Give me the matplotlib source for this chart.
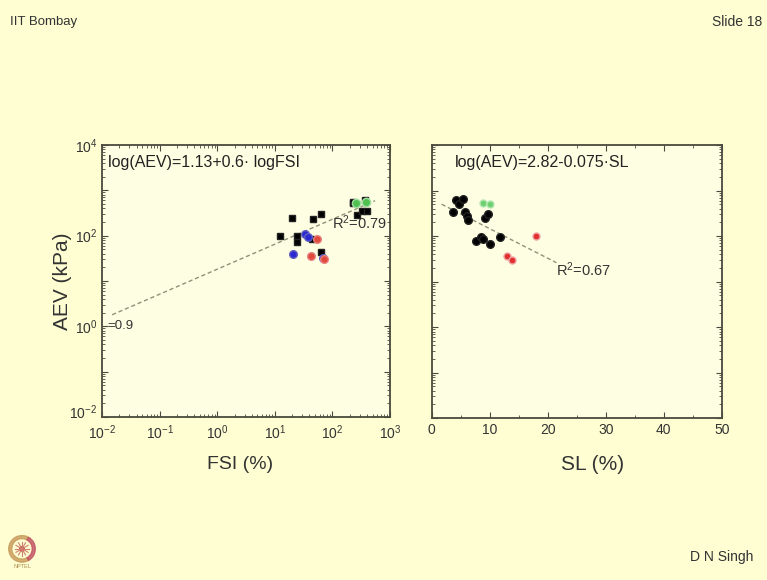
import numpy as np
import matplotlib
matplotlib.use("Agg")
import matplotlib.pyplot as plt
from matplotlib.ticker import LogLocator, NullFormatter, FixedLocator, FixedFormatter, MultipleLocator
from matplotlib.patches import Circle, Wedge
from matplotlib.transforms import ScaledTranslation

plt.rcParams['font.family'] = ['Liberation Sans', 'DejaVu Sans']

# ---- data ----
# left panel: FSI (%) vs AEV (kPa)
fsi_black = [12.4, 20, 24, 24, 46, 63, 63, 44, 228, 370, 270, 330, 400, 230]
aev_black = [97, 250, 100, 72, 230, 295, 44, 83, 530, 620, 285, 355, 355, 560]
fsi_blue = [33, 38, 20.5, 69]
aev_blue = [107, 95, 39, 32]
fsi_red = [54, 43, 72]
aev_red = [83, 35, 30]
fsi_green = [257, 390]
aev_green = [520, 550]
fsi_fit_x = [0.015, 550]
fsi_fit_y = [1.8, 590]

# right panel: SL (%) vs AEV (kPa)
sl_black = [3.6, 4.1, 4.7, 5.3, 5.7, 6.0, 6.3, 9.1, 9.7, 7.6, 8.4, 8.9, 10.1, 11.7]
aev2_black = [340, 620, 515, 650, 340, 270, 230, 250, 300, 79, 95, 87, 68, 95]
sl_red = [17.9, 13.0, 13.9]
aev2_red = [102, 37, 30]
sl_green = [8.85, 10.0]
aev2_green = [540, 500]
sl_fit_x = [1.7, 21.5]
sl_fit_y = [500, 26]

bg = '#fefed2'
inner = '#fefee2'
edge = '#4a4a3e'
fitc = '#8c9478'

fig = plt.figure(figsize=(7.67, 5.80), dpi=100)
fig.patch.set_facecolor(bg)

ax1 = fig.add_axes([0.133, 0.281, 0.3755, 0.469])
ax2 = fig.add_axes([0.563, 0.279, 0.378, 0.471])

for ax in (ax1, ax2):
    ax.set_facecolor(inner)
    for s in ax.spines.values():
        s.set_color(edge)
        s.set_linewidth(1.3)
    ax.set_yscale('log')
    ax.set_ylim(1e-2, 1e4)
    ax.tick_params(which='both', direction='in', top=True, right=True,
                   colors=edge, labelcolor='#333333', labelsize=10)
    ax.tick_params(which='major', length=4)
    ax.tick_params(which='minor', length=2)
    ax.yaxis.set_major_locator(FixedLocator([10.0**k for k in range(-2, 5)]))
    ax.yaxis.set_minor_locator(LogLocator(base=10, subs=np.arange(2, 10), numticks=20))
    ax.yaxis.set_minor_formatter(NullFormatter())

ms = 5
# left panel
ax1.set_xscale('log')
ax1.set_xlim(1e-2, 1e3)
ax1.xaxis.set_major_locator(FixedLocator([10.0**k for k in range(-2, 4)]))
ax1.xaxis.set_major_formatter(FixedFormatter([r'$\mathregular{10^{%d}}$' % k for k in range(-2, 4)]))
ax1.xaxis.set_minor_locator(LogLocator(base=10, subs=np.arange(2, 10), numticks=20))
ax1.xaxis.set_minor_formatter(NullFormatter())
ax1.yaxis.set_major_formatter(FixedFormatter(
    [r'$\mathregular{10^{%d}}$' % k if k % 2 == 0 else '' for k in range(-2, 5)]))
ax1.tick_params(axis='x', which='major', pad=4.5)

ax1.plot(fsi_fit_x, fsi_fit_y, ls=(0, (3, 2)), color=fitc, lw=1.0)
ax1.plot(fsi_black, aev_black, 's', color='black', ms=ms, mec='#222222')
ax1.plot(fsi_blue, aev_blue, 'o', color='#2a2ad0', ms=ms + 0.5, mec='#6060c0')
ax1.plot(fsi_red, aev_red, 'o', color='#e04a3a', ms=ms + 0.5, mec='#e88080')
ax1.plot(fsi_green, aev_green, 'o', color='#50c050', ms=ms + 1, mec='#a0e0a0')

ax1.text(0.02, 0.965, 'log(AEV)=1.13+0.6· logFSI', transform=ax1.transAxes,
         fontsize=11.5, va='top', ha='left', color='#222222')
ax1.text(0.80, 0.715, r'R$\mathregular{^2}$=0.79', transform=ax1.transAxes,
         fontsize=10.5, va='center', ha='left', color='#333333')
ax1.text(0.02, 0.335, '=0.9', transform=ax1.transAxes,
         fontsize=9.5, va='center', ha='left', color='#333333')
ax1.set_xlabel('FSI (%)', fontsize=14, color='#333333')
ax1.set_ylabel('AEV (kPa)', fontsize=15, color='#333333')
ax1.xaxis.set_label_coords(0.479, -0.143)
ax1.yaxis.set_label_coords(-0.104, 0.5)

# right panel
ax2.set_xlim(0, 50)
ax2.xaxis.set_major_locator(MultipleLocator(10))
ax2.xaxis.set_minor_locator(MultipleLocator(5))
ax2.yaxis.set_major_formatter(NullFormatter())

ax2.plot(sl_fit_x, sl_fit_y, ls=(0, (3, 2)), color=fitc, lw=1.0)
ax2.plot(sl_black, aev2_black, 'o', color='black', ms=ms + 0.5, mec='#222222')
ax2.plot(sl_red, aev2_red, 'o', color='#e03030', ms=ms, mec='#f0a0a0')
ax2.plot(sl_green, aev2_green, 'o', color='#70d070', ms=ms, mec='#b0e8b0')

ax2.text(0.08, 0.965, 'log(AEV)=2.82-0.075·SL', transform=ax2.transAxes,
         fontsize=11.5, va='top', ha='left', color='#222222')
ax2.text(0.43, 0.545, r'R$\mathregular{^2}$=0.67', transform=ax2.transAxes,
         fontsize=10.5, va='center', ha='left', color='#333333')
ax2.set_xlabel('SL (%)', fontsize=15, color='#333333')
ax2.xaxis.set_label_coords(0.555, -0.135)

# slide decorations
fig.text(10 / 767, 1 - 22 / 580, 'IIT Bombay', fontsize=9.5, color='#333333', va='center')
fig.text(712 / 767, 1 - 22 / 580, 'Slide 18', fontsize=10, color='#333333', va='center')
fig.text(690 / 767, 1 - 557 / 580, 'D N Singh', fontsize=10, color='#333333', va='center')

logo = fig.add_axes([8 / 767, 1 - 572 / 580, 28 / 767, 40 / 580])
logo.set_xlim(-1, 1)
logo.set_ylim(-1.45, 1)
logo.set_aspect('equal')
logo.axis('off')
logo.add_patch(Wedge((0, 0), 0.95, 60, 300, width=0.22, color='#c89a5a', alpha=0.8))
logo.add_patch(Wedge((0, 0), 0.95, -60, 60, width=0.22, color='#c05060', alpha=0.8))
for a in np.linspace(0, 2 * np.pi, 12, endpoint=False):
    logo.plot([0, 0.5 * np.cos(a)], [0, 0.5 * np.sin(a)], color='#d08070', lw=0.8)
logo.add_patch(Circle((0, 0), 0.15, color='#c04040'))
logo.text(0, -1.25, 'NPTEL', fontsize=4, ha='center', va='center', color='#b09050')

# lift the lowest y label a little so it clears the 10^-2 on the x axis
fig.canvas.draw()
low = ax1.yaxis.get_major_ticks()[0].label1
low.set_transform(low.get_transform() + ScaledTranslation(0, 4 / 72, fig.dpi_scale_trans))

fig.savefig('out.png', dpi=100, facecolor=bg)
